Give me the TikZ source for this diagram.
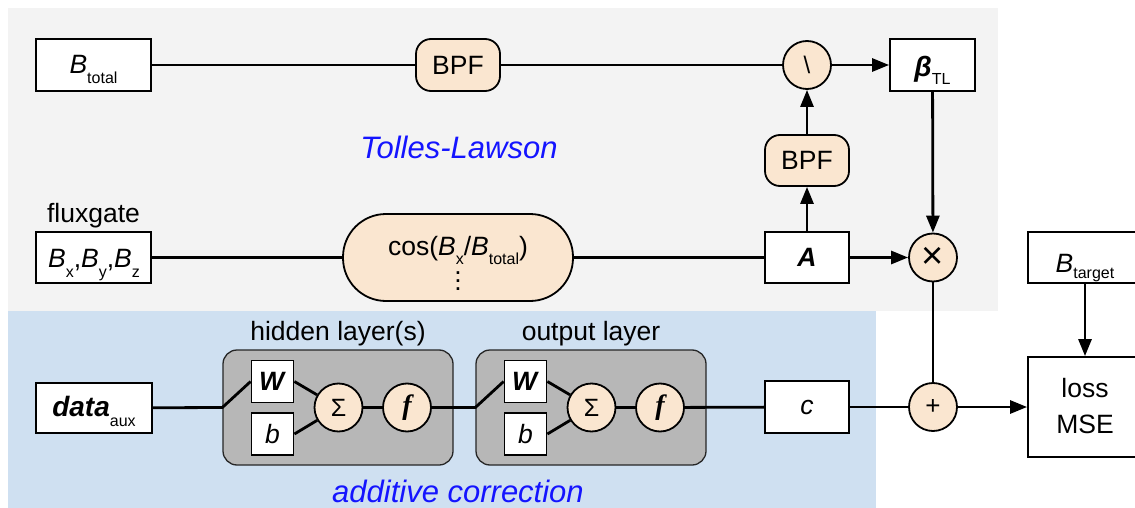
\documentclass[tikz,border=0pt]{standalone}
\usepackage{fontspec}
\setmainfont{Liberation Sans}
\newfontfamily\seriffam{Liberation Serif}
\usetikzlibrary{arrows.meta}
\definecolor{bggray}{RGB}{243,243,243}
\definecolor{bgblue}{RGB}{207,224,241}
\definecolor{peach}{RGB}{250,230,208}
\definecolor{grpgray}{RGB}{183,183,183}
\definecolor{lblblue}{RGB}{20,20,255}
\newcommand{\lowsub}[2][10pt]{\raisebox{-#1}{\fontsize{16}{18}\selectfont #2}}
\begin{document}
\begin{tikzpicture}[x=1pt,y=-1pt,
  font=\fontsize{26.5}{30}\selectfont,
  box/.style={draw, line width=1.8pt, fill=white, inner sep=0pt},
  rbox/.style={draw, line width=1.8pt, fill=peach, rounded corners=15pt, inner sep=0pt},
  op/.style={circle, draw, line width=1.8pt, fill=peach, minimum size=48pt, inner sep=0pt},
  grp/.style={draw=black!85, line width=1.3pt, fill=grpgray, rounded corners=14pt},
  lbl/.style={inner sep=0pt, anchor=base},
  big/.style={inner sep=0pt, anchor=base, font=\fontsize{31}{34}\selectfont\itshape, text=lblblue},
  conn/.style={line width=2.8pt},
  arr/.style={line width=2.8pt, -{Triangle[length=17pt,width=13pt]}}
]
\useasboundingbox (0,0) rectangle (1135,508);
\clip (0,0) rectangle (1135,508);
\fill[white] (0,0) rectangle (1135,508);
\fill[bggray] (8,8) rectangle (998,311);
\fill[bgblue] (8,311) rectangle (876,508);

% ---- Tolles-Lawson part
\node[box, minimum width=115pt, minimum height=52pt] (btot) at (93.5,65) {};
\node[lbl] (btotT) at (93.5,74) {\textit{B}\lowsub{total}};
\node[rbox, minimum width=84pt, minimum height=52pt] (bpf1) at (458,65) {BPF};
\node[op] (bs) at (807,65) {\fontsize{24}{24}\selectfont\textbackslash};
\node[box, minimum width=85pt, minimum height=52pt] (beta) at (932.5,65) {};
\node[lbl] (betaT) at (932.5,77) {\fontsize{28}{30}\selectfont\textbf{\textit{β}}\lowsub[8pt]{TL}};
\node[big] (tl) at (459,159) {Tolles-Lawson};
\node[rbox, minimum width=84pt, minimum height=51pt] (bpf2) at (807,160.5) {BPF};
\node[lbl] (flux) at (93.5,222) {fluxgate};
\node[box, minimum width=115pt, minimum height=51pt] (bxyz) at (93.5,257.5) {};
\node[lbl] (bxyzT) at (94,267) {\textit{B}\lowsub{x},\textit{B}\lowsub{y},\textit{B}\lowsub{z}};
\node[draw, line width=1.8pt, fill=peach, rounded corners=43pt, minimum width=230pt, minimum height=87pt] (cosn) at (458,257.5) {};
\node[lbl] (cosT) at (458,255) {cos(\textit{B}\lowsub[9pt]{x}/\textit{B}\lowsub[9pt]{total})};
\node[inner sep=0pt, anchor=south] (dots) at (458,291) {\vbox{\baselineskip=8pt\lineskiplimit=-20pt\hbox{.}\hbox{.}\hbox{.}}};
\node[box, minimum width=84pt, minimum height=51pt] (amat) at (807,257.5) {\textbf{\textit{A}}};
\node[op] (times) at (933,257.5) {\fontsize{38}{38}\selectfont ×};
\node[box, minimum width=114pt, minimum height=51pt] (btar) at (1085,257.5) {};
\node[lbl] (btarT) at (1085,272) {\textit{B}\lowsub[6pt]{target}};

% ---- additive correction part
\node[lbl] (hid) at (338,340) {hidden layer(s)};
\node[lbl] (outl) at (591,340) {output layer};
\node[grp, minimum width=230pt, minimum height=115pt] (g1) at (338,407.5) {};
\node[grp, minimum width=230pt, minimum height=115pt] (g2) at (591,407.5) {};
\node[box, minimum size=42pt] (w1) at (272.5,381.5) {\textbf{\textit{W}}};
\node[box, minimum size=42pt] (b1) at (272.5,434) {\textit{b}};
\node[op] (sig1) at (338.5,407.5) {\fontsize{25}{25}\selectfont Σ};
\node[op] (f1) at (407,407.5) {\seriffam\fontsize{28}{28}\selectfont\bfseries\itshape f};
\node[box, minimum size=42pt] (w2) at (525.5,381.5) {\textbf{\textit{W}}};
\node[box, minimum size=42pt] (b2) at (525.5,434) {\textit{b}};
\node[op] (sig2) at (591.5,407.5) {\fontsize{25}{25}\selectfont Σ};
\node[op] (f2) at (660,407.5) {\seriffam\fontsize{28}{28}\selectfont\bfseries\itshape f};
\node[box, minimum width=116pt, minimum height=50pt] (data) at (94,408) {};
\node[lbl] (dataT) at (94,416) {\fontsize{28}{30}\selectfont\textbf{\textit{data}}\lowsub{aux}};
\node[box, minimum width=84pt, minimum height=52pt] (cbox) at (807,407) {\textit{c}};
\node[op] (plus) at (933,407) {\fontsize{26}{26}\selectfont +};
\node[box, minimum width=114pt, minimum height=100pt] (loss) at (1085,407) {};
\node[lbl] (lossT1) at (1085,397) {loss};
\node[lbl] (lossT2) at (1085,433) {MSE};
\node[big] (addc) at (458,502) {additive correction};

% ---- connectors
\draw[conn] (btot) -- (bpf1);
\draw[conn] (bpf1) -- (bs);
\draw[arr] (bs) -- (beta);
\draw[arr] (bpf2) -- (bs);
\draw[arr] (amat) -- (bpf2);
\draw[conn] (bxyz) -- (cosn);
\draw[conn] (cosn) -- (amat);
\draw[arr] (amat) -- (times);
\draw[arr] (beta) -- (times);
\draw[conn] (times) -- (plus);
\draw[conn] (data) -- (g1.west) -- (w1.west);
\draw[conn] (w1.east) -- (sig1);
\draw[conn] (b1.east) -- (sig1);
\draw[conn] (sig1) -- (f1);
\draw[conn] (f1) -- (g2.west) -- (w2.west);
\draw[conn] (w2.east) -- (sig2);
\draw[conn] (b2.east) -- (sig2);
\draw[conn] (sig2) -- (f2);
\draw[conn] (f2) -- (cbox);
\draw[conn] (cbox) -- (plus);
\draw[arr] (plus) -- (loss);
\draw[arr] (btar) -- (loss);
\end{tikzpicture}
\end{document}
